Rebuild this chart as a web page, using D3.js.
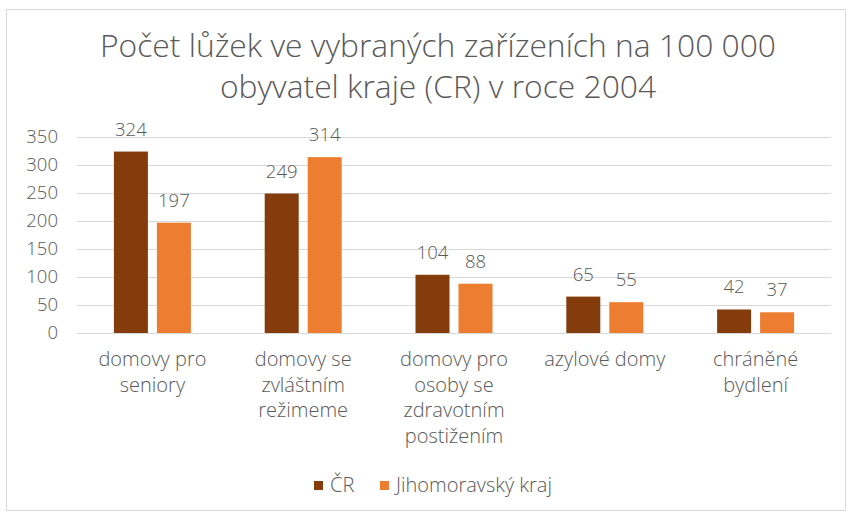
<!DOCTYPE html>
<html>
<head>
<meta charset="utf-8">
<script src="https://cdn.jsdelivr.net/npm/d3@7"></script>
<style>
	body { margin: 0; background: #fff; }
	text { font-family: "Open Sans", "Liberation Sans", sans-serif; font-weight: 300; fill: #595959; }
</style>
</head>
<body>
<div id="graph"></div>
<script>
"use strict";
let categories = [
	["domovy pro", "seniory"],
	["domovy se", "zvláštním", "režimeme"],
	["domovy pro", "osoby se", "zdravotním", "postižením"],
	["azylové domy"],
	["chráněné", "bydlení"]
];
let seriesNames = ["ČR", "Jihomoravský kraj"];
let valuesCR = [324, 249, 104, 65, 42];
let valuesJMK = [197, 314, 88, 55, 37];
let yTicks = [0, 50, 100, 150, 200, 250, 300, 350];
let colors = ["#843C0C", "#ED7D31"];

let width = 848, height = 514;
let margin = { top: 137, right: 17, bottom: 181, left: 77 };

let svg = d3.select("#graph")
			.append("svg")
			.attr("width", width)
			.attr("height", height);

// chart border
svg.append("rect")
	.attr("x", 6.5).attr("y", 9.5)
	.attr("width", width - 9).attr("height", height - 13)
	.attr("fill", "none")
	.attr("stroke", "#d9d9d9");

let titleLines = ["Počet lůžek ve vybraných zařízeních na 100 000", "obyvatel kraje (CR) v roce 2004"];
svg.append("g").selectAll("text")
	.data(titleLines)
	.enter().append("text")
	.attr("x", 438)
	.attr("y", (d, i) => 57 + i * 40.5)
	.attr("text-anchor", "middle")
	.style("font-size", "31.8px")
	.text(d => d);

let x = d3.scaleBand()
	.domain(d3.range(categories.length))
	.range([margin.left, width - margin.right]);

let y = d3.scaleLinear()
	.domain([0, 350])
	.range([height - margin.bottom, margin.top]);

// gridlines
svg.append("g")
	.selectAll("line")
	.data(yTicks)
	.enter().append("line")
	.attr("x1", margin.left)
	.attr("x2", width - margin.right)
	.attr("y1", d => Math.round(y(d)) + 0.5)
	.attr("y2", d => Math.round(y(d)) + 0.5)
	.attr("stroke", "#d9d9d9")
	.attr("stroke-width", 1);

// y axis labels
let yAxis = d3.axisLeft(y).tickValues(yTicks).tickSize(0).tickPadding(19);
let gy = svg.append("g")
	.attr("transform", "translate(" + margin.left + ",0)")
	.call(yAxis);
gy.select(".domain").remove();
gy.selectAll("text")
	.style("font-size", "18.5px")
	.style("font-family", null);

let barW = 34, gap = 9;
let series = [valuesCR, valuesJMK];

series.forEach(function(vals, s)
{
	let offset = s === 0 ? -(barW + gap / 2) : gap / 2;
	let g = svg.append("g");
	g.selectAll("rect")
		.data(vals)
		.enter().append("rect")
		.attr("x", (d, i) => x(i) + x.bandwidth() / 2 + offset)
		.attr("y", d => y(d))
		.attr("width", barW)
		.attr("height", d => y(0) - y(d))
		.attr("fill", colors[s]);
	g.selectAll("text")
		.data(vals)
		.enter().append("text")
		.attr("x", (d, i) => x(i) + x.bandwidth() / 2 + offset + barW / 2)
		.attr("y", d => y(d) - 16)
		.attr("text-anchor", "middle")
		.style("font-size", "18.5px")
		.text(d => d);
});

// category labels
let cat = svg.append("g").selectAll("text")
	.data(categories)
	.enter().append("text")
	.attr("text-anchor", "middle")
	.style("font-size", "20px");
cat.each(function(lines, i)
{
	d3.select(this).selectAll("tspan")
		.data(lines)
		.enter().append("tspan")
		.attr("x", x(i) + x.bandwidth() / 2)
		.attr("y", (d, j) => 366 + j * 25.5)
		.text(d => d);
});

// legend
let legendX = [314, 380];
let lg = svg.append("g");
seriesNames.forEach(function(name, i)
{
	lg.append("rect")
		.attr("x", legendX[i]).attr("y", 481)
		.attr("width", 9).attr("height", 9)
		.attr("fill", colors[i]);
	lg.append("text")
		.attr("x", legendX[i] + 16).attr("y", 492)
		.style("font-size", "20px")
		.text(name);
});
</script>
</body>
</html>
